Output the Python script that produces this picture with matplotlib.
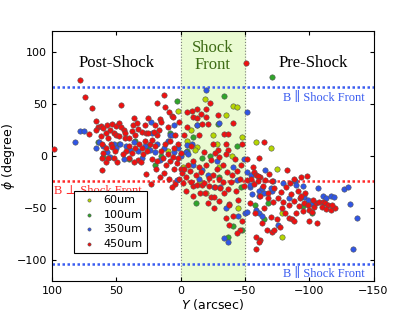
import numpy as np
import matplotlib
matplotlib.use('Agg')
import matplotlib.pyplot as plt

# polarization angle vs position (Y arcsec, phi degree)
red_450 = [
    (98,7),(78,73),(74,57),(69,46),(66,34),(64,28),(62,29),(71,21),(66,25),(60,27),(57,30),(55,25),
    (53,31),(58,22),(62,19),(52,22),(56,17),(61,12),(54,12),(50,29),(50,20),(53,9),(58,8),(51,5),
    (61,-2),(58,-6),(61,-13),(56,-2),(52,-2),(49,-6),(60,3),
    (48,32),(46,28),(44,25),(43,22),(46,49),(48,19),(43,17),(40,17),(37,30),(34,32),(36,37),(38,24),
    (35,20),(33,26),(30,23),(27,22),(25,22),(25,37),(28,30),(32,12),(30,8),(28,15),(40,10),(42,5),
    (38,3),(35,8),(33,-4),(31,-6),(27,-17),(23,-27),(45,2),(40,-2),(36,-6),(29,2),(26,5),(24,12),
    (22,16),(20,10),(22,-3),(18,-5),
    (13,59),(18,51),(12,47),(9,42),(7,39),(6,38),(16,36),(15,33),(17,25),(1.5,33),(20,30),(10,28),
    (8,15),(12,12),(15,5),(5,8),(10,2),(3,-7),(0,-12),(-1,-16),(-4,-20),(14,-2),(8,-5),(5,-12),
    (2,-2),(18,20),(21,23),(4,20),(2,12),(0,3),(11,-8),(6,-1),(19,-12),(13,-16),(16,-20),(9,-22),
    (1,-22),(4,-27),(7,-30),(-2,-26),
    (-51,90),(-23,51),(-9,43),(-5,42),(-13,45),(-16,41),(-19.5,45),(-29,40),(-10,38),(-13,37),
    (-20,38),(-41,32),(-17,31),(-21,31),(-34,21),(-37,21),(-25,12),(-48,12),(-37,6),(-29,6),
    (-27,3),(-30,-1),(-18,4),(-52,-3),(-10,-29),(-13,-28),(-17,-28),(-18,-26),(-22,-29),(-27,-30),
    (-31,-31),(-34,-35),(-37,-32),(-15,-35),(-19,-35),(-24,-39),(-26,-39),(-21,-45),(-30,-43),
    (-38,-46),(-35,-59),(-38,-47),(-41,-57),(-38,-66),(-48,-62),(-46,-71),(-44,-74),(-5,28),
    (-3,20),(-8,10),(-6,-8),(-10,-5),(-14,-10),(-20,-8),(-24,-4),(-28,-12),(-33,-8),(-36,-15),
    (-40,-18),(-44,-14),(-47,-8),(-42,-3),(-35,2),(-25,-18),(-30,-22),(-12,-18),(-7,-14),
    (-39,-25),(-46,-22),(-49,-29),(-43,-33),(-16,-15),(-22,-21),(-4,-33),(-10,-38),(-26,-50),
    (-33,-25),(-45,-42),(-14,20),(-8,-25),(-3,-12),(-35,12),
    (-65,14),(-61,-2),(-56,-10),(-57,-15),(-58.5,-18),(-69,-17),(-62,-20),(-60,-19),(-83,-13),
    (-52,-23),(-55,-22),(-60,-24),(-66,-23),(-71,-24),(-88,-22),(-94,-20),(-98,-19),(-85,-26),
    (-57,-27),(-64,-29),(-68,-35),(-73,-31),(-78,-34),(-82,-30),(-86,-36),(-91,-33),(-93,-40),
    (-97,-35),(-76,-40),(-72,-44),(-68,-40),(-62,-38),(-80,-44),(-84,-47),(-88,-43),(-79,-50),
    (-81,-55),(-84,-59),(-87,-60),(-88,-62),(-90,-55),(-67,-71),(-71,-73),(-73,-71),(-77,-68),
    (-59,-78),(-62,-81),(-61,-82),(-59,-89),(-94,-38),(-96,-45),(-99,-47),(-100,-52),(-102,-54),
    (-104,-49),(-105,-45),(-108,-44),(-111,-44),(-112,-45),(-115,-47),(-110,-49),(-113,-51),
    (-117,-52),(-120,-50),(-118,-47),(-100,-62),(-106,-64),(-92,-48),(-95,-53),(-103,-42),
    (-54,-45),(-58,-55),(-70,-58),(-75,-60),(-65,-50),(-63,-64),
]

blue_350 = [
    (78,24),(75,24),(82,14),(63,14),(60,10),(66,8),(57,4),(52,12),(55,-1),(50,8),(47,12),(44,-3),
    (42,10),(39,6),(36,14),(33,5),(30,-2),(28,10),(24,6),(23,33),(22,22),(20,4),(18,12),(16,-4),
    (13,8),(10,15),(8,20),(7,20),(5,30),(5,4),(3,-23),(2,8),(0,0),(-20,64),(-52,42),(-30,32),
    (-13,30),(-9,12),(-5,11),(-4,4),(-6,2),(-49,-3),(-17,-13),(-21,-18),(-52,-15),(-55,-18),
    (-14,-22),(-31,-30),(-44,-23),(-54,-30),(-26,-30),(-34,-79),(-37,-82),(-44.5,-57),(-50,-55),
    (-52,-54),(-54,-28),(-61,-33),(-55.5,-36),(-61,-38),(-65,-35),(-71,-33),(-59,-52),(-61,-55),
    (-63,-57),(-76,-66),(-72,-24),(-80,-26),(-89,-24),(-95,-29),(-66,-13),(-90,-28),(-107,-31),
    (-63,-31),(-70,-31),(-127,-32),(-130,-30),(-132,-46),(-137,-59),(-134,-89),(-111,-38),
    (-113,-40),(-117,-38),(-119.5,-39),(-96,-39),(-99,-42),(-84,-40),(-102,-46),(-35,-50),
    (-41,-10),(-28,-5),(-10,-8),
]

green_100 = [
    (64,14),(60,-1),(48,12),(40,-3),(35,15),(25,10),(15,0),(8,22),(3,53),(-17,-2),(-23,0),
    (-29,31),(-34,58),(-37,-78),(-41,-67),(-48,-71),(-71,76),(-65,-60),(-95,-48),(-102,-55),
    (-68,-45),(-10,18),(-5,5),(-30,-20),(-47,-30),(-12,-45),(20,-8),(-44,10),(-58,-47),
]

yellow_60 = [
    (2,43),(-19,55),(-41,48),(-44,47),(-13,30),(-8.5,25),(-48,18),(-13,9),(-11,6),(-59,14),
    (-70,8),(-75,-12),(-79,-55),(-79,-78),(-5,15),(-25,20),(-35,40),(-30,-10),(-20,-35),(0,2),
    (10,5),(-45,-50),(-15,-25),(-2,-10),(-40,0),(-28,12),
]

series = [
    ('60um', yellow_60, '#b5d600'),
    ('100um', green_100, '#2fa52a'),
    ('350um', blue_350, '#2f55e6'),
    ('450um', red_450, '#f01010'),
]

par_lines = [66, -104]
perp_line = -24
front = (0, -50)

fig = plt.figure(figsize=(4.15, 3.13), dpi=100)
ax = fig.add_axes([0.125, 0.102, 0.775, 0.798])

ax.axvspan(front[0], front[1], color='#eafbd2', zorder=0)
for xv in front:
    ax.axvline(xv, color='gray', ls=':', lw=0.8, zorder=1)

for name, pts, c in series:
    arr = np.array(pts)
    ax.scatter(arr[:, 0], arr[:, 1], s=15, c=c, edgecolors='#555555',
               linewidths=0.4, label=name, zorder=3)

for yv in par_lines:
    ax.axhline(yv, color='#3a5cf0', ls=(0, (1, 1)), lw=1.8, zorder=2)
ax.axhline(perp_line, color='#ff2a2a', ls=(0, (1, 1)), lw=1.8, zorder=2)

serif = ['Liberation Serif', 'DejaVu Serif', 'DejaVu Sans']
ax.text(50, 90, 'Post-Shock', family=serif, fontsize=12, ha='center', va='center')
ax.text(-103, 90, 'Pre-Shock', family=serif, fontsize=12, ha='center', va='center')
ax.text(-25, 96, 'Shock\nFront', family=serif, fontsize=12, ha='center', va='center',
        color='#3d6b14', linespacing=1.1)
ax.text(-143, 56, 'B \u2225 Shock Front', family=serif, fontsize=9, ha='right', va='center',
        color='#3a5cf0')
ax.text(-143, -113, 'B \u2225 Shock Front', family=serif, fontsize=9, ha='right', va='center',
        color='#3a5cf0')
ax.text(98.5, -33, 'B \u22a5 Shock Front', family=serif, fontsize=9, ha='left', va='center',
        color='#ff2a2a')

ax.set_xlim(100, -150)
ax.set_ylim(-120, 120)
ax.set_xticks([100, 50, 0, -50, -100, -150])
ax.set_yticks([100, 50, 0, -50, -100])
ax.tick_params(direction='in', top=True, right=True, labelsize=8, length=3)
ax.set_xlabel('$Y$ (arcsec)', fontsize=9, labelpad=1)
ax.set_ylabel(r'$\phi$ (degree)', fontsize=9, labelpad=0)

leg = ax.legend(loc='lower left', bbox_to_anchor=(0.05, 0.09), fontsize=8, fancybox=False,
                markerscale=0.6, handletextpad=0.3, borderpad=0.4, labelspacing=0.4,
                scatterpoints=1, framealpha=1)
leg.get_frame().set_edgecolor('black')
leg.get_frame().set_linewidth(0.8)

fig.savefig('out.png', dpi=100)
